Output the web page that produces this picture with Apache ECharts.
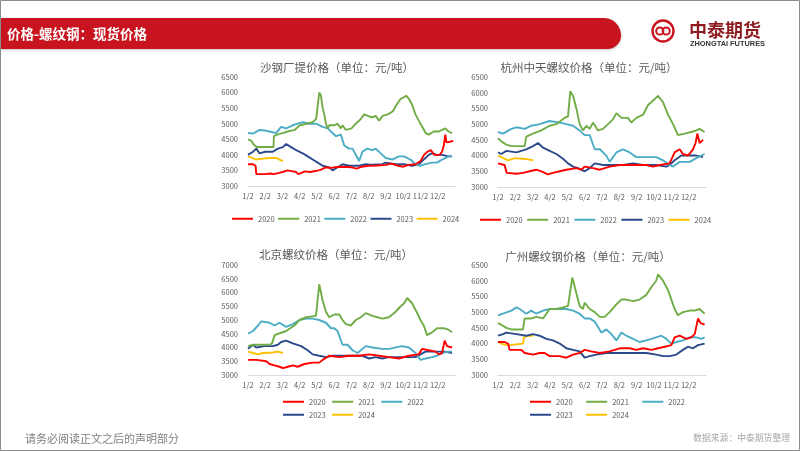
<!DOCTYPE html>
<html><head><meta charset="utf-8">
<script src="https://cdn.jsdelivr.net/npm/echarts@6/dist/echarts.min.js"></script>
<style>html,body{margin:0;padding:0;background:#fff}#c{width:802px;height:452px}</style>
</head><body><div id="c"></div>
<script>
// x = months after Jan 2 (0 = 1/2, 1 = 2/2, ...)
const monthLabels = ['1/2','2/2','3/2','4/2','5/2','6/2','7/2','8/2','9/2','10/2','11/2','12/2'];
const years = ['2020','2021','2022','2023','2024'];
const colors = ['#FF0000','#70AD47','#4BACC6','#2B4A8C','#FFC000'];
const titles = ['沙钢厂提价格（单位：元/吨）','杭州中天螺纹价格（单位：元/吨）','北京螺纹价格（单位：元/吨）','广州螺纹钢价格（单位：元/吨）'];

// 沙钢厂提
const sha2020 = [[0,3700],[0.29,3700],[0.33,3650],[0.44,3650],[0.48,3380],[1.0,3380],[1.3,3400],[1.5,3380],[1.6,3430],[1.8,3420],[2.0,3450],[2.3,3500],[2.6,3470],[2.8,3450],[2.9,3380],[3.1,3420],[3.3,3470],[3.6,3450],[3.9,3480],[4.2,3520],[4.5,3600],[4.8,3580],[5.0,3600],[5.5,3620],[6.0,3600],[6.3,3560],[6.6,3620],[7.0,3650],[7.5,3660],[8.0,3680],[8.3,3720],[8.7,3650],[9.0,3620],[9.3,3680],[9.7,3700],[10.0,3800],[10.2,4000],[10.4,4100],[10.6,4150],[10.8,4000],[10.9,3950],[11.1,4000],[11.25,4100],[11.35,4300],[11.44,4650],[11.5,4400],[11.7,4420],[11.9,4450]];
const sha2021 = [[0,4500],[0.1,4450],[0.2,4450],[0.3,4350],[0.5,4250],[1.0,4250],[1.48,4250],[1.5,4600],[1.7,4650],[2.0,4700],[2.3,4750],[2.7,4800],[3.0,4950],[3.4,5000],[3.75,5050],[3.95,5150],[4.05,5200],[4.13,6000],[4.23,5900],[4.33,5500],[4.42,5300],[4.52,5000],[4.62,4850],[4.71,4950],[5.0,4950],[5.19,5000],[5.38,4850],[5.48,4950],[5.67,4800],[6.0,4850],[6.25,5000],[6.54,5150],[6.73,5300],[6.95,5250],[7.2,5200],[7.4,5250],[7.6,5100],[7.8,5250],[8.1,5300],[8.4,5400],[8.6,5600],[8.85,5800],[9.04,5850],[9.17,5900],[9.33,5800],[9.52,5600],[9.71,5300],[9.9,5100],[10.1,4900],[10.3,4700],[10.48,4650],[10.77,4750],[11.06,4750],[11.25,4800],[11.44,4850],[11.63,4750],[11.83,4700]];
const sha2022 = [[0,4700],[0.29,4680],[0.67,4800],[1.0,4780],[1.25,4750],[1.63,4700],[1.92,4900],[2.21,4850],[2.6,4950],[2.88,5000],[3.17,5050],[3.56,5000],[3.94,5000],[4.33,4900],[4.62,4850],[4.9,4700],[5.1,4600],[5.38,4650],[5.58,4300],[5.87,4200],[6.06,4200],[6.35,3900],[6.44,3800],[6.63,4100],[6.92,4200],[7.21,4150],[7.4,4200],[7.79,4000],[7.98,3900],[8.37,3850],[8.75,3950],[9.04,3950],[9.42,3850],[9.71,3700],[9.96,3650],[10.29,3700],[10.67,3750],[10.96,3750],[11.25,3850],[11.63,3950],[11.83,3950]];
const sha2023 = [[0,4000],[0.29,4100],[0.48,4200],[0.67,4050],[1.0,4100],[1.44,4100],[1.73,4200],[2.02,4250],[2.21,4350],[2.5,4250],[2.79,4150],[3.17,4050],[3.46,3950],[3.75,3850],[4.04,3750],[4.33,3650],[4.71,3600],[4.9,3500],[5.19,3600],[5.48,3700],[5.87,3650],[6.44,3650],[6.83,3700],[7.21,3680],[7.79,3700],[7.98,3750],[8.56,3700],[9.04,3700],[9.52,3650],[9.9,3700],[10.19,3850],[10.48,4000],[10.67,4050],[10.96,4000],[11.25,4000],[11.63,3950],[11.83,3950]];
const sha2024 = [[0,3950],[0.1,3900],[0.48,3850],[0.87,3880],[1.25,3900],[1.63,3900],[1.83,3850],[2.02,3800]];

// 杭州中天
const hz2020 = [[0,3750],[0.38,3700],[0.5,3450],[1.06,3420],[1.44,3450],[1.83,3500],[2.21,3550],[2.5,3500],[2.88,3400],[3.17,3450],[3.56,3500],[3.94,3550],[4.52,3600],[4.81,3550],[5.0,3650],[5.48,3600],[5.87,3550],[6.44,3650],[7.02,3700],[7.6,3700],[7.98,3700],[8.56,3700],[8.94,3650],[9.33,3700],[9.9,3750],[10.19,4100],[10.48,4200],[10.67,4050],[10.96,4000],[11.25,4200],[11.4,4400],[11.5,4700],[11.63,4400],[11.83,4500]];
const hz2021 = [[0,4550],[0.19,4450],[0.48,4350],[0.77,4300],[1.54,4300],[1.63,4600],[2.02,4700],[2.5,4800],[2.98,4950],[3.37,5000],[3.85,5200],[4.04,5250],[4.17,6050],[4.33,5900],[4.52,5500],[4.71,5000],[4.9,4800],[5.1,4950],[5.29,4850],[5.48,5050],[5.77,4800],[6.06,4850],[6.35,5000],[6.63,5150],[6.83,5350],[7.12,5200],[7.5,5200],[7.69,5050],[7.98,5200],[8.37,5300],[8.65,5600],[9.04,5800],[9.23,5900],[9.52,5700],[9.81,5300],[10.1,5000],[10.38,4650],[10.77,4700],[11.15,4750],[11.44,4800],[11.63,4850],[11.92,4750]];
const hz2022 = [[0,4750],[0.29,4700],[0.77,4850],[1.06,4900],[1.54,4850],[1.92,4950],[2.4,5000],[2.98,5100],[3.56,5050],[3.94,5000],[4.33,4950],[4.71,4800],[5.0,4650],[5.29,4650],[5.58,4200],[5.87,4200],[6.25,4000],[6.44,3800],[6.83,4100],[7.21,4200],[7.6,4100],[7.98,3950],[8.56,3950],[9.13,3950],[9.52,3850],[9.9,3700],[10.1,3650],[10.48,3800],[11.06,3800],[11.54,3950],[11.92,4050]];
const hz2023 = [[0,4100],[0.19,4050],[0.48,4150],[1.06,4100],[1.63,4200],[2.02,4300],[2.31,4400],[2.6,4250],[2.98,4150],[3.37,4050],[3.75,3900],[4.04,3750],[4.33,3650],[4.62,3600],[5.0,3500],[5.29,3600],[5.58,3750],[6.06,3700],[6.63,3700],[7.21,3700],[7.79,3750],[8.37,3700],[9.13,3700],[9.71,3650],[9.9,3700],[10.19,3850],[10.58,4000],[11.06,4000],[11.44,4000],[11.83,3950]];
const hz2024 = [[0,4000],[0.19,3950],[0.58,3850],[0.96,3920],[1.44,3900],[1.73,3880],[2.02,3850]];

// 北京
const bj2020 = [[0,3550],[0.48,3550],[0.58,3500],[1.06,3500],[1.25,3400],[1.54,3350],[1.83,3300],[2.02,3250],[2.31,3300],[2.6,3350],[2.88,3300],[3.27,3400],[3.75,3450],[4.13,3450],[4.33,3550],[4.71,3700],[5.29,3650],[5.87,3700],[6.44,3700],[7.02,3750],[7.6,3700],[8.17,3650],[8.75,3600],[9.33,3700],[9.9,3750],[10.1,3950],[10.48,3900],[10.87,3850],[11.06,3750],[11.25,3800],[11.4,4250],[11.54,4050],[11.83,4000]];
const bj2021 = [[0,4050],[0.29,4100],[1.25,4100],[1.4,4150],[1.54,4450],[2.21,4600],[2.69,4800],[2.98,5000],[3.37,5100],[3.94,5150],[4.13,6300],[4.23,6250],[4.33,5700],[4.52,5300],[4.71,5100],[5.0,5200],[5.29,5200],[5.48,5000],[5.67,4850],[5.96,4800],[6.25,5000],[6.54,5100],[6.83,5250],[7.21,5150],[7.5,5100],[7.79,5050],[8.17,5100],[8.56,5300],[8.85,5500],[9.04,5600],[9.23,5800],[9.52,5600],[9.81,5250],[10.0,5000],[10.19,4800],[10.38,4450],[10.67,4550],[10.96,4700],[11.35,4700],[11.63,4650],[11.83,4550]];
const bj2022 = [[0,4500],[0.29,4600],[0.58,4800],[0.77,4950],[1.25,4900],[1.54,4800],[1.83,4900],[2.21,4750],[2.6,4850],[2.98,5000],[3.37,5050],[3.75,5050],[4.13,5000],[4.52,4900],[4.81,4700],[5.0,4700],[5.19,4600],[5.48,4100],[5.77,4100],[6.06,3900],[6.35,3800],[6.54,3900],[6.83,4050],[7.21,4000],[7.79,3950],[8.17,3950],[8.94,4050],[9.33,4000],[9.71,3800],[10.0,3550],[10.29,3600],[10.67,3650],[10.96,3700],[11.25,3800],[11.63,3850],[11.83,3850]];
const bj2023 = [[0,3950],[0.29,4100],[0.48,4000],[0.96,4050],[1.44,4050],[1.73,4100],[1.92,4200],[2.21,4250],[2.6,4150],[3.08,4050],[3.46,3900],[3.75,3750],[4.13,3700],[4.52,3650],[4.9,3700],[5.48,3700],[6.06,3700],[6.63,3700],[7.02,3600],[7.4,3650],[7.79,3600],[8.17,3650],[8.75,3650],[9.33,3650],[9.71,3650],[10.0,3750],[10.29,3850],[10.87,3850],[11.44,3850],[11.83,3800]];
const bj2024 = [[0,3850],[0.29,3800],[0.58,3750],[0.87,3800],[1.44,3820],[1.73,3850],[2.02,3800]];

// 广州
const gz2020 = [[0,4050],[0.38,4050],[0.58,4000],[0.67,3800],[1.35,3800],[1.54,3700],[2.02,3650],[2.4,3700],[2.69,3700],[2.98,3600],[3.56,3600],[3.94,3550],[4.33,3650],[4.71,3700],[5.0,3800],[5.38,3750],[5.87,3700],[6.44,3750],[7.02,3850],[7.6,3850],[7.98,3800],[8.37,3850],[8.85,3800],[9.23,3850],[9.62,3900],[10.0,3950],[10.19,4200],[10.48,4250],[10.87,4150],[11.15,4200],[11.35,4300],[11.54,4800],[11.69,4650],[11.92,4600]];
const gz2021 = [[0,4650],[0.19,4600],[0.48,4500],[0.77,4450],[1.44,4450],[1.54,4800],[1.92,4800],[2.21,4850],[2.6,4800],[2.98,5100],[3.37,5100],[3.75,5150],[4.04,5200],[4.29,6100],[4.37,6150],[4.52,5600],[4.71,5200],[4.9,5100],[5.0,5300],[5.29,5100],[5.58,5000],[5.87,4850],[6.15,4850],[6.44,5000],[6.83,5250],[7.12,5400],[7.4,5400],[7.79,5350],[8.17,5400],[8.56,5550],[8.85,5800],[9.13,6000],[9.23,6200],[9.52,6000],[9.81,5700],[10.0,5400],[10.19,5100],[10.38,4900],[10.67,5000],[11.06,5050],[11.35,5050],[11.63,5100],[11.92,4950]];
const gz2022 = [[0,4900],[0.29,4950],[0.77,5050],[1.06,5150],[1.25,5100],[1.63,4950],[1.92,5050],[2.21,4950],[2.6,5050],[2.98,5100],[3.37,5100],[3.94,5100],[4.33,5050],[4.71,4950],[5.0,4800],[5.29,4800],[5.58,4700],[5.96,4350],[6.25,4450],[6.54,4300],[6.83,4100],[7.12,4350],[7.4,4250],[7.79,4150],[8.17,4050],[8.56,4100],[9.13,4200],[9.42,4250],[9.71,4150],[10.0,4000],[10.29,4050],[10.67,4100],[11.06,4200],[11.44,4200],[11.73,4150],[11.92,4200]];
const gz2023 = [[0,4250],[0.29,4300],[0.48,4350],[1.06,4300],[1.63,4250],[2.02,4300],[2.4,4250],[2.79,4150],[3.17,4100],[3.56,4000],[3.94,3850],[4.33,3800],[4.71,3750],[5.0,3550],[5.29,3600],[5.67,3650],[6.25,3700],[6.83,3700],[7.4,3700],[7.98,3700],[8.56,3700],[9.13,3650],[9.52,3600],[9.9,3600],[10.29,3650],[10.67,3800],[10.96,3900],[11.25,3850],[11.54,3950],[11.92,4000]];
const gz2024 = [[0,4050],[0.19,4000],[0.48,3950],[0.67,3950],[0.77,4000],[1.44,4000],[1.5,4200],[1.73,4250],[2.05,4250]];

const chartData = [
  [sha2020, sha2021, sha2022, sha2023, sha2024],
  [hz2020, hz2021, hz2022, hz2023, hz2024],
  [bj2020, bj2021, bj2022, bj2023, bj2024],
  [gz2020, gz2021, gz2022, gz2023, gz2024]
];
const yMin = [3000, 3000, 3000, 3000];
const yMax = [6500, 6500, 7000, 6500];

// layout
const grids = [
  {left: 248, right: 347, top: 77, bottom: 266},
  {left: 498, right: 96, top: 77, bottom: 265},
  {left: 248, right: 347, top: 265, bottom: 77},
  {left: 498, right: 96, top: 265, bottom: 77}
];
const titlePos = [[337, 68], [589, 68], [336, 255], [588, 257]];
const FONT = '"Noto Sans CJK SC", "Noto Sans", sans-serif';
const grey = '#595959';

const xAxes = grids.map((g, i) => ({
  type: 'value', gridIndex: i, min: 0, max: 12, interval: 1,
  axisLine: {lineStyle: {color: '#D9D9D9', width: 1}},
  axisTick: {show: false}, splitLine: {show: false},
  axisLabel: {fontSize: 7.5, color: grey, margin: 6, fontFamily: FONT,
    formatter: v => monthLabels[v] || ''}
}));
const yAxes = grids.map((g, i) => ({
  type: 'value', gridIndex: i, min: yMin[i], max: yMax[i], interval: 500,
  axisLine: {show: false}, axisTick: {show: false}, splitLine: {show: false},
  axisLabel: {fontSize: 7.5, color: grey, margin: 10, fontFamily: FONT, formatter: v => String(v)}
}));
const series = [];
chartData.forEach((arr, ci) => {
  arr.forEach((d, si) => {
    series.push({
      type: 'line', name: years[si], xAxisIndex: ci, yAxisIndex: ci, data: d,
      showSymbol: false, symbol: 'none', animation: false, z: si === 0 ? 6 : 5 - si + 2,
      lineStyle: {color: colors[si], width: 1.9}, itemStyle: {color: colors[si]}
    });
  });
});
const legBase = {icon: 'rect', itemWidth: 21, itemHeight: 2,
  textStyle: {fontSize: 7.5, color: grey, fontFamily: FONT}, padding: 0, orient: 'horizontal', selectedMode: false};
const legends = [
  Object.assign({}, legBase, {left: 232, top: 215, itemGap: 3.5, data: years}),
  Object.assign({}, legBase, {left: 480, top: 216, itemGap: 4.5, data: years}),
  Object.assign({}, legBase, {left: 283, top: 398, itemGap: 6.5, data: ['2020','2021','2022']}),
  Object.assign({}, legBase, {left: 283, top: 411, itemGap: 6.5, data: ['2023','2024']}),
  Object.assign({}, legBase, {left: 530, top: 398, itemGap: 13.5, data: ['2020','2021','2022']}),
  Object.assign({}, legBase, {left: 530, top: 411, itemGap: 13.5, data: ['2023','2024']})
];

const graphics = [
  {type: 'rect', shape: {x: 0.5, y: 0.5, width: 799, height: 450}, style: {fill: 'none', stroke: '#8C8C8C', lineWidth: 1}, z: 1},
  {type: 'rect', shape: {x: 1, y: 18, width: 620, height: 31, r: [0, 18, 14, 0]}, style: {fill: '#C8141E', shadowBlur: 3, shadowColor: 'rgba(0,0,0,0.25)', shadowOffsetY: 1}},
  {type: 'text', x: 7, y: 34, style: {text: '价格-螺纹钢：现货价格', fill: '#fff', fontSize: 13.5, fontWeight: 'bold', fontFamily: FONT, textVerticalAlign: 'middle'}},
  {type: 'circle', shape: {cx: 663, cy: 31, r: 10.5}, style: {fill: 'none', stroke: '#C8141E', lineWidth: 2.4}},
  {type: 'circle', shape: {cx: 659.8, cy: 31, r: 3.6}, style: {fill: 'none', stroke: '#C8141E', lineWidth: 2}},
  {type: 'circle', shape: {cx: 666.2, cy: 31, r: 3.6}, style: {fill: 'none', stroke: '#C8141E', lineWidth: 2}},
  {type: 'text', x: 689, y: 30, style: {text: '中泰期货', fill: '#8E1B1F', fontSize: 18, fontWeight: 'bold', fontFamily: FONT, textVerticalAlign: 'middle'}},
  {type: 'text', x: 690, y: 44, style: {text: 'ZHONGTAI FUTURES', fill: '#333', fontSize: 7.4, fontWeight: 'bold', fontFamily: '"Liberation Sans", sans-serif', textVerticalAlign: 'middle'}},
  {type: 'text', x: 25, y: 439, style: {text: '请务必阅读正文之后的声明部分', fill: '#7F7F7F', fontSize: 11, fontFamily: FONT, textVerticalAlign: 'middle'}},
  {type: 'text', x: 790, y: 438, style: {text: '数据来源：中泰期货整理', fill: '#A6A6A6', fontSize: 8.8, fontFamily: FONT, textAlign: 'right', textVerticalAlign: 'middle'}}
];
titles.forEach((t, i) => graphics.push({type: 'text', x: titlePos[i][0], y: titlePos[i][1],
  style: {text: t, fill: grey, fontSize: 11.5, fontFamily: FONT, textAlign: 'center', textVerticalAlign: 'middle'}}));

const chart = echarts.init(document.getElementById('c'), null, {renderer: 'canvas'});
chart.setOption({
  animation: false, backgroundColor: '#fff',
  grid: grids, xAxis: xAxes, yAxis: yAxes, series: series, legend: legends, graphic: graphics
});
</script></body></html>
